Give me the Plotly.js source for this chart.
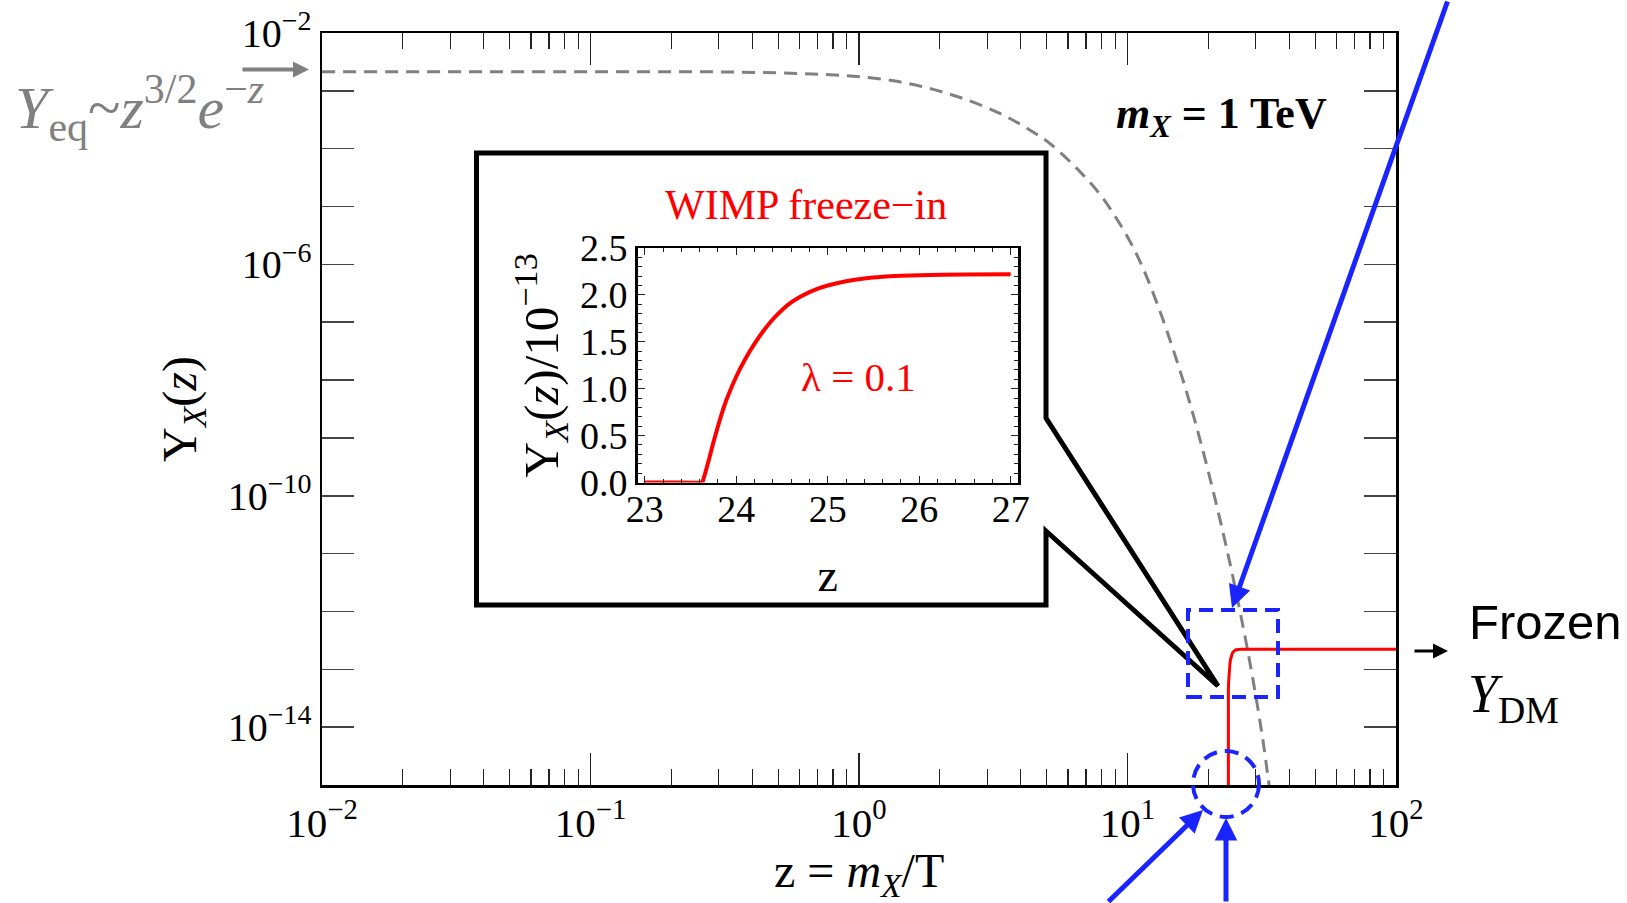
<!DOCTYPE html>
<html>
<head>
<meta charset="utf-8">
<script src="https://cdn.plot.ly/plotly-3.0.1.min.js"></script>
<style>html,body{margin:0;padding:0;background:#fff;}#chart{width:1627px;height:903px;}</style>
</head>
<body>
<div id="chart"></div>
<script>
// ---------- data ----------
// equilibrium abundance Y_eq(z) (gray dashed)
const eqZ = [0.01, 0.1, 0.256, 0.5, 0.75, 1.01, 1.4, 1.89, 2.5, 3.35, 4.2, 5.14, 6.5, 7.9, 9.2, 10.48, 11.8, 13.5, 15.2, 17.0, 18.6, 20.6, 22.7, 24.5, 26.3, 28.3, 30.3, 32.0, 33.4, 35.0];
const eqY = [2.148e-3, 2.143e-3, 2.138e-3, 2.042e-3, 1.914e-3, 1.758e-3, 1.445e-3, 1.059e-3, 7.08e-4, 4.07e-4, 2.29e-4, 1.23e-4, 4.47e-5, 1.62e-5, 5.75e-6, 2.00e-6, 6.03e-7, 1.17e-7, 2.29e-8, 4.27e-9, 9.55e-10, 1.51e-10, 2.29e-11, 4.68e-12, 9.55e-13, 1.66e-13, 2.75e-14, 5.62e-15, 1.32e-15, 2.82e-16];
// WIMP freeze-in Y_X(z) in units of 1e-13 (red)
const wimpZ = [23.0, 23.3, 23.63, 23.631, 23.64, 23.66, 23.7, 23.75, 23.8, 23.85, 23.9, 24.0, 24.1, 24.2, 24.3, 24.4, 24.5, 24.6, 24.7, 24.8, 24.9, 25.0, 25.2, 25.4, 25.6, 25.8, 26.0, 26.5, 27.0];
const wimpY = [0, 0, 0, 0.0035, 0.035, 0.10, 0.24, 0.43, 0.60, 0.76, 0.90, 1.13, 1.32, 1.48, 1.62, 1.74, 1.84, 1.92, 1.98, 2.03, 2.07, 2.10, 2.145, 2.175, 2.193, 2.203, 2.21, 2.218, 2.22];
const wimpUnit = 1e-13;
// frozen tail out to z = 100
const frozenZ = [100];
const frozenY = [2.22];
// tick labels
const xTickVals = [0.01, 0.1, 1, 10, 100];
const xTickText = ['10<sup>−2</sup>', '10<sup>−1</sup>', '10<sup>0</sup>', '10<sup>1</sup>', '10<sup>2</sup>'];
const yTickVals = [1e-2, 1e-6, 1e-10, 1e-14];
const yTickText = ['10<sup>−2</sup>', '10<sup>−6</sup>', '10<sup>−10</sup>', '10<sup>−14</sup>'];

// ---------- geometry helpers (pixel -> paper) ----------
const BOX = {l: 322, r: 1396, t: 33, b: 785};
const W = 1627, H = 903;
function fx(x) { return (x - BOX.l) / (BOX.r - BOX.l); }
function fy(y) { return (BOX.b - y) / (BOX.b - BOX.t); }

const SERIF = '"Liberation Serif", "Times New Roman", serif';
const SANS = '"Liberation Sans", Arial, sans-serif';
const RED = '#ff0000';
const BLUE = '#1a24ff';
const GRAY = '#808080';

const mainZ = wimpZ.concat(frozenZ);
const mainY = wimpY.concat(frozenY).map(v => v * wimpUnit);

const traces = [
  {x: eqZ, y: eqY, type: 'scatter', mode: 'lines', xaxis: 'x', yaxis: 'y',
   line: {color: GRAY, width: 3, dash: '13px,8px', shape: 'spline', smoothing: 1}, hoverinfo: 'skip'},
  {x: mainZ, y: mainY, type: 'scatter', mode: 'lines', xaxis: 'x', yaxis: 'y',
   line: {color: RED, width: 3}, hoverinfo: 'skip'},
  {x: wimpZ, y: wimpY, type: 'scatter', mode: 'lines', xaxis: 'x2', yaxis: 'y2',
   line: {color: RED, width: 4, shape: 'spline', smoothing: 0.6}, hoverinfo: 'skip'}
];

const callout = [
  [476.5, 153], [1046, 153], [1046, 418], [1218, 686], [1046, 531], [1046, 605], [476.5, 605]
];
const calloutPath = 'M' + callout.map(p => fx(p[0]).toFixed(5) + ',' + fy(p[1]).toFixed(5)).join(' L') + ' Z';

const shapes = [
  {type: 'path', xref: 'paper', yref: 'paper', path: calloutPath,
   line: {color: 'black', width: 5}, fillcolor: 'rgba(0,0,0,0)', layer: 'above'},
  {type: 'rect', xref: 'paper', yref: 'paper', x0: fx(1188), x1: fx(1278), y0: fy(697), y1: fy(610),
   line: {color: BLUE, width: 4, dash: '14px,8px'}, layer: 'above'},
  {type: 'circle', xref: 'paper', yref: 'paper', x0: fx(1193), x1: fx(1259), y0: fy(817), y1: fy(751),
   line: {color: BLUE, width: 4, dash: '14px,8px'}, layer: 'above'}
];

function arrow(tx, ty, ax, ay, color, width, size) {
  return {xref: 'paper', yref: 'paper', x: fx(tx), y: fy(ty), ax: ax, ay: ay, text: '',
          showarrow: true, arrowhead: 2, arrowsize: size, arrowwidth: width, arrowcolor: color, standoff: 0};
}
function label(x, y, text, font, xanchor) {
  return {xref: 'paper', yref: 'paper', x: fx(x), y: fy(y), text: text, showarrow: false,
          xanchor: xanchor || 'center', yanchor: 'middle', font: font};
}

const annotations = [
  arrow(1232, 608, 216, -625, BLUE, 5, 0.9),
  arrow(1203, 810, -96, 99, BLUE, 5, 0.9),
  arrow(1226, 818, 0, 110, BLUE, 5, 0.9),
  arrow(309, 69.5, -68, 0, GRAY, 4, 0.8),
  arrow(1448, 651, -35, 0, 'black', 3, 1.0),
  label(139, 108, '<i>Y</i><sub>eq</sub>~<i>z</i><sup>3/2</sup><i>e</i><sup>−<i>z</i></sup>', {family: SERIF, size: 60, color: GRAY}),
  label(1221, 117, '<b><i>m</i><sub><i>X</i></sub> = 1 TeV</b>', {family: SERIF, size: 44, color: 'black'}),
  label(806, 205, 'WIMP freeze−in', {family: SERIF, size: 42, color: RED}),
  label(858, 377, 'λ = 0.1', {family: SERIF, size: 41, color: RED}),
  label(1467, 622, 'Frozen', {family: SANS, size: 49, color: 'black'}, 'left'),
  label(1466, 697, '<i>Y</i><sub>DM</sub>', {family: SERIF, size: 54, color: 'black'}, 'left'),
  // main x-axis title
  label(859, 874, 'z = <i>m</i><sub><i>X</i></sub>/T', {family: SERIF, size: 48, color: 'black'})
];

const tickCol = '#222';
const layout = {
  width: W, height: H,
  margin: {l: BOX.l, r: W - BOX.r, t: BOX.t, b: H - BOX.b, pad: 0},
  paper_bgcolor: 'white', plot_bgcolor: 'white',
  showlegend: false,
  font: {family: SERIF, color: 'black', size: 38},
  xaxis: {
    type: 'log', range: [-2, 2], domain: [0, 1], anchor: 'y',
    showline: true, linewidth: 2.5, linecolor: 'black', mirror: 'ticks',
    ticks: 'inside', ticklen: 32, tickwidth: 1.5, tickcolor: tickCol,
    tickmode: 'array', tickvals: xTickVals, ticktext: xTickText,
    tickfont: {family: SERIF, size: 41, color: 'black'},
    showgrid: false, zeroline: false,
    minor: {ticks: 'inside', ticklen: 16, tickwidth: 1.2, tickcolor: tickCol, dtick: 'D1', showgrid: false}
  },
  yaxis: {
    type: 'log', range: [-15, -2], domain: [0, 1], anchor: 'x',
    showline: true, linewidth: 2.5, linecolor: 'black', mirror: 'ticks',
    ticks: 'inside', ticklen: 32, tickwidth: 1.5, tickcolor: '#444',
    tickmode: 'array', tickvals: yTickVals, ticktext: yTickText,
    tickfont: {family: SERIF, size: 40, color: 'black'},
    showgrid: false, zeroline: false,
    minor: {ticks: 'inside', ticklen: 32, tickwidth: 1.5, tickcolor: '#444', tick0: 0, dtick: 1, showgrid: false},
    title: {text: 'Y<sub><i>X</i></sub>(<i>z</i>)', font: {family: SERIF, size: 48}, standoff: 16}
  },
  xaxis2: {
    domain: [fx(637.5), fx(1018)], anchor: 'y2', range: [22.92, 27.08],
    showline: true, linewidth: 2.5, linecolor: 'black', mirror: 'ticks',
    ticks: 'inside', ticklen: 7, tickwidth: 1.2, tickcolor: tickCol,
    tick0: 23, dtick: 1, ticklabelstandoff: -9,
    tickfont: {family: SERIF, size: 38, color: 'black'},
    showgrid: false, zeroline: false,
    minor: {ticks: 'inside', ticklen: 4, tickwidth: 1, tickcolor: tickCol, dtick: 0.2, showgrid: false},
    title: {text: 'z', font: {family: SERIF, size: 46}, standoff: 30}
  },
  yaxis2: {
    domain: [fy(482.5), fy(248)], anchor: 'x2', range: [0, 2.5],
    showline: true, linewidth: 2.5, linecolor: 'black', mirror: 'ticks',
    ticks: 'inside', ticklen: 7, tickwidth: 1.2, tickcolor: tickCol,
    tick0: 0, dtick: 0.5, tickformat: '.1f',
    tickfont: {family: SERIF, size: 38, color: 'black'},
    showgrid: false, zeroline: false,
    minor: {ticks: 'inside', ticklen: 4, tickwidth: 1, tickcolor: tickCol, dtick: 0.1, showgrid: false},
    title: {text: 'Y<sub><i>X</i></sub>(<i>z</i>)/10<sup>−13</sup>', font: {family: SERIF, size: 49}, standoff: 6}
  },
  shapes: shapes,
  annotations: annotations
};

Plotly.newPlot('chart', traces, layout, {staticPlot: true, displayModeBar: false});
</script>
</body>
</html>
